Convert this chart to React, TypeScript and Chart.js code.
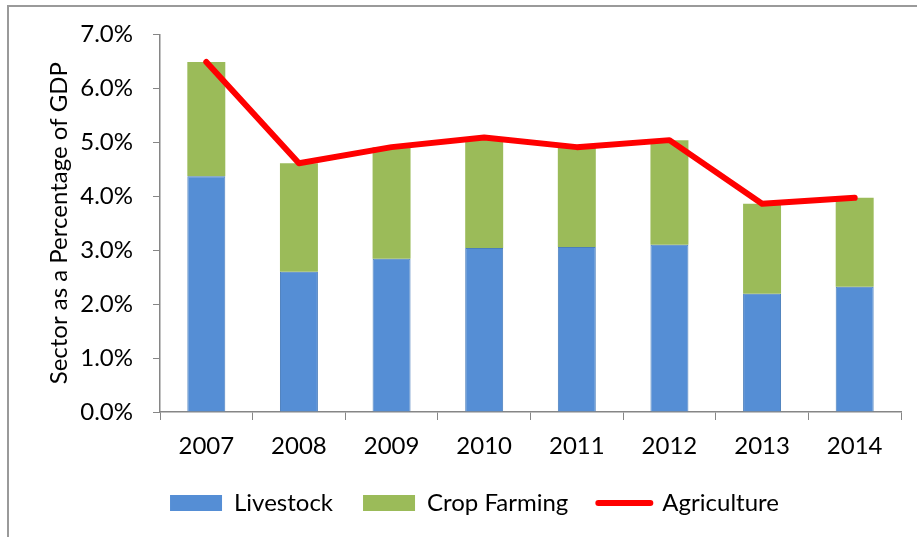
import React, { useEffect, useRef } from "react";
import { Chart, registerables } from "chart.js";

Chart.register(...registerables);

const years = ["2007", "2008", "2009", "2010", "2011", "2012", "2013", "2014"];
const livestock = [4.37, 2.6, 2.84, 3.04, 3.06, 3.1, 2.19, 2.32];
const cropFarming = [2.12, 2.01, 2.07, 2.05, 1.85, 1.94, 1.67, 1.65];
const agriculture = [6.49, 4.61, 4.91, 5.09, 4.91, 5.04, 3.86, 3.97];
const yTicks = [0, 1, 2, 3, 4, 5, 6, 7];

const FONT = "Lato, 'Open Sans', sans-serif";
const FS = 24;
const AXIS = "#868686";

export default function App() {
  const ref = useRef<HTMLCanvasElement | null>(null);
  useEffect(() => {
    if (!ref.current) return;
    const chart = new Chart(ref.current, {
      type: "bar",
      data: {
        labels: years,
        datasets: [
          {
            type: "bar",
            label: "Livestock",
            data: livestock,
            backgroundColor: "#558ED5",
            borderColor: "#4A7EBB",
            borderWidth: 1,
            stack: "s",
            categoryPercentage: 1,
            barPercentage: 0.41,
          },
          {
            type: "bar",
            label: "Crop Farming",
            data: cropFarming,
            backgroundColor: "#9BBB59",
            borderWidth: 0,
            stack: "s",
            categoryPercentage: 1,
            barPercentage: 0.41,
          },
          {
            type: "line",
            label: "Agriculture",
            data: agriculture,
            borderColor: "#FF0000",
            backgroundColor: "#FF0000",
            borderWidth: 6,
            borderCapStyle: "round",
            borderJoinStyle: "round",
            pointRadius: 0,
            tension: 0,
            stack: "line",
            order: -1,
          } as any,
        ],
      },
      options: {
        animation: false,
        responsive: false,
        maintainAspectRatio: false,
        layout: { padding: { left: 48, right: 16, top: 34, bottom: 12 } },
        plugins: {
          tooltip: { enabled: false },
          legend: {
            position: "bottom",
            labels: {
              font: { family: FONT, size: FS },
              color: "#000",
              usePointStyle: true,
              pointStyleWidth: 52,
              boxWidth: 52,
              boxHeight: 16,
              padding: 30,
              sort: (a: any, b: any) => a.datasetIndex - b.datasetIndex,
              generateLabels: (c: any) => {
                const items = Chart.defaults.plugins.legend.labels.generateLabels(c);
                items.forEach((it: any) => {
                  if (it.text === "Agriculture") {
                    it.pointStyle = "line";
                    it.lineWidth = 6;
                    it.lineCap = "round";
                    it.strokeStyle = "#FF0000";
                  } else {
                    it.pointStyle = "rect";
                    it.lineWidth = 0;
                  }
                });
                return items;
              },
            },
          },
        },
        scales: {
          x: {
            stacked: true,
            offset: true,
            grid: {
              offset: true,
              drawOnChartArea: false,
              drawTicks: true,
              tickLength: 8,
              color: AXIS,
            },
            border: { color: AXIS, width: 1.5 },
            ticks: {
              font: { family: FONT, size: FS },
              color: "#000",
              padding: 12,
            },
            afterFit: (s: any) => {
              s.height = 49;
            },
          },
          y: {
            stacked: true,
            min: 0,
            max: 7,
            afterBuildTicks: (s: any) => {
              s.ticks = yTicks.map((v) => ({ value: v }));
            },
            grid: {
              drawOnChartArea: false,
              drawTicks: true,
              tickLength: 7,
              color: AXIS,
            },
            border: { color: AXIS, width: 1.5 },
            ticks: {
              font: { family: FONT, size: FS },
              color: "#000",
              padding: 20,
              callback: (v: any) => Number(v).toFixed(1) + "%",
            },
            title: {
              display: true,
              text: "Sector as a Percentage of GDP",
              font: { family: FONT, size: FS },
              color: "#000",
              padding: { top: -3, bottom: 0 },
            },
            afterFit: (s: any) => {
              s.width = 112;
            },
          },
        },
      },
    });
    return () => chart.destroy();
  }, []);
  return (
    <div style={{ position: "absolute", left: 0, top: 0, width: 917, height: 537, background: "#fff" }}>
      <div
        style={{
          position: "absolute",
          left: 7,
          top: 5,
          width: 910,
          height: 532,
          borderTop: "2px solid #9a9a9a",
          borderLeft: "2px solid #9a9a9a",
          boxSizing: "border-box",
          pointerEvents: "none",
        }}
      />
      <canvas ref={ref} width={917} height={537} style={{ position: "absolute", left: 0, top: 0 }} />
    </div>
  );
}
